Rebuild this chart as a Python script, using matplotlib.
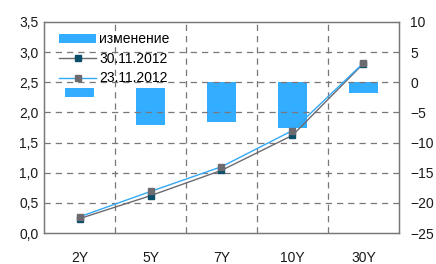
import matplotlib
matplotlib.use("Agg")
import matplotlib.pyplot as plt
from matplotlib.ticker import FuncFormatter, MultipleLocator
import numpy as np

plt.rcParams["font.family"] = ["Liberation Sans", "DejaVu Sans"]
plt.rcParams["font.size"] = 10

categories = ["2Y", "5Y", "7Y", "10Y", "30Y"]
rate_30_11 = [0.24, 0.62, 1.04, 1.62, 2.81]
rate_23_11 = [0.27, 0.69, 1.10, 1.70, 2.82]
change_top = [-0.9, -0.9, 0.0, 0.0, 0.0]
change_bottom = [-2.4, -7.1, -6.6, -7.5, -1.7]

bar_color = "#33adff"
teal = "#0b4f6b"
grey = "#6d6a70"
light_blue = "#33a9f5"
grid_color = "#7a767a"

fig = plt.figure(figsize=(4.36, 2.64), dpi=100)
ax = fig.add_axes([0.101, 0.117, 0.814, 0.8])
ax2 = ax.twinx()

x = np.arange(len(categories))
heights = [b - t for t, b in zip(change_top, change_bottom)]
bars = ax2.bar(x, heights, bottom=change_top, width=0.41, color=bar_color,
               label="изменение", zorder=2)

ax2.set_ylim(-25, 10)
ax2.yaxis.set_major_locator(MultipleLocator(5))

ax.set_zorder(ax2.get_zorder() + 1)
ax.patch.set_visible(False)

l1, = ax.plot(x, rate_30_11, color=grey, lw=1, marker="s", ms=5,
              mfc=teal, mec=teal, label="30.11.2012", zorder=3)
l2, = ax.plot(x, rate_23_11, color=light_blue, lw=1, marker="s", ms=5,
              mfc=grey, mec=grey, label="23.11.2012", zorder=4)

ax.set_xlim(-0.5, len(categories) - 0.5)
ax.set_ylim(0, 3.5)
ax.yaxis.set_major_locator(MultipleLocator(0.5))
ax.yaxis.set_major_formatter(FuncFormatter(lambda v, p: f"{v:.1f}".replace(".", ",")))
ax.set_xticks(x)
ax.set_xticklabels(categories)

# grid: horizontal at left ticks, vertical between categories
for v in np.arange(0.5, 3.5, 0.5):
    ax.axhline(v, color=grid_color, lw=0.9, ls=(0, (5, 4)), zorder=1)
for b in x[:-1] + 0.5:
    ax.axvline(b, color=grid_color, lw=0.9, ls=(0, (5, 4)), zorder=1)

for a in (ax, ax2):
    for s in a.spines.values():
        s.set_color(grid_color)
        s.set_linewidth(0.9)
    a.tick_params(length=0, colors="#1a1a1a", labelsize=10)
ax.tick_params(axis="x", pad=13)
ax.tick_params(axis="y", pad=4)
ax2.tick_params(axis="y", pad=8)

ax.legend([bars, l1, l2], ["изменение", "30.11.2012", "23.11.2012"],
          loc="upper left", bbox_to_anchor=(0.02, 0.99), frameon=False,
          handlelength=2.6, handletextpad=0.25, labelspacing=0.4,
          borderaxespad=0.2, fontsize=10)

fig.savefig("out.png", dpi=100)
